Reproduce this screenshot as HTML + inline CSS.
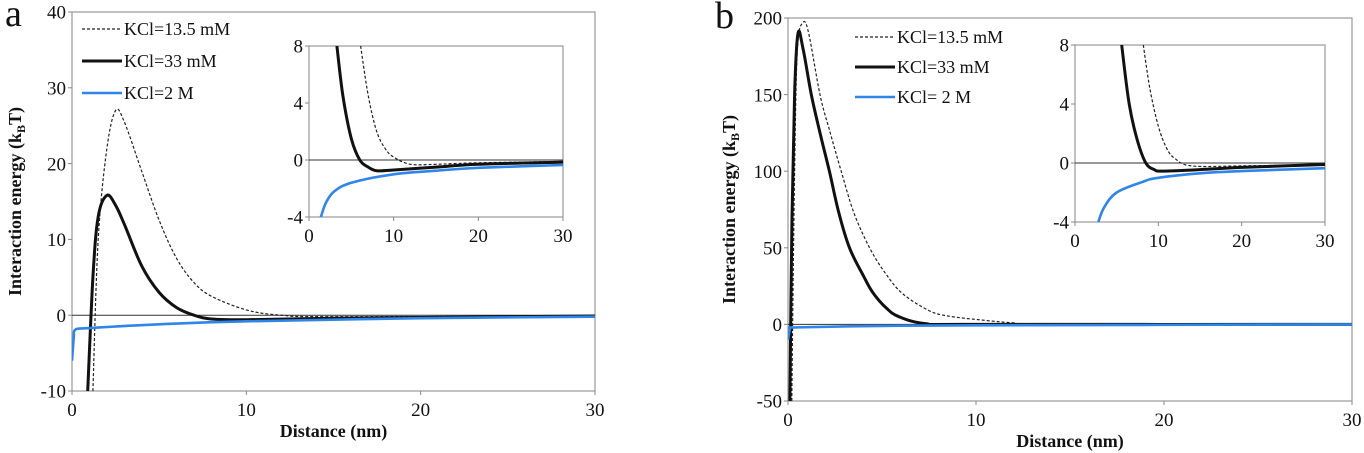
<!DOCTYPE html>
<html><head><meta charset="utf-8"><style>
body{margin:0;background:#fff;}
svg{display:block;font-family:"Liberation Serif",serif;}
</style></head><body>
<svg id="c" width="1364" height="453"></svg>
<script>
// ---- data ----
const seriesNames = ["KCl=13.5 mM","KCl=33 mM","KCl=2 M"];
const seriesNamesB = ["KCl=13.5 mM","KCl=33 mM","KCl= 2 M"];
const aMainX13 = [1.2,1.5,2,2.5,3,4,5,6,7,8,10,12,15,30];
const aMainY13 = [-10,10,22,27,25.5,19,12.5,7.5,4.3,2.5,0.7,0,-0.2,-0.1];
const aMainX33 = [0.9,1.2,1.5,2,2.5,3,4,5,6,7,8,10,15,20,30];
const aMainY33 = [-10,5,13,15.8,14.5,12,6.5,3,1,0,-0.5,-0.6,-0.4,-0.3,-0.1];
const aMainX2M = [0,0.1,0.2,1,5,10,20,30];
const aMainY2M = [-6,-3,-1.9,-1.7,-1.2,-0.8,-0.4,-0.2];
const aInsX13 = [6.1,7,8,9,10,12,15,20,30];
const aInsY13 = [8,4.5,2,0.8,0.2,-0.3,-0.3,-0.2,-0.1];
const aInsX33 = [3.3,4,5,6,7,8,10,15,20,30];
const aInsY33 = [8,4.5,1.5,0,-0.5,-0.75,-0.7,-0.5,-0.3,-0.15];
const aInsX2M = [1.4,2,3,5,10,15,20,30];
const aInsY2M = [-4,-3,-2.2,-1.6,-1,-0.75,-0.55,-0.35];
const bMainX13 = [0.2,0.35,0.5,0.8,1.1,1.7,2.2,2.83,3.5,4.34,5.2,6.1,7.5,8.5,10.2,12,14,30];
const bMainY13 = [-50,100,180,197,190,150,127,100,73,50,33,20,9,5.5,3,1,0,0];
const bMainX33 = [0.1,0.2,0.35,0.53,0.8,1.24,1.7,2.2,2.7,3.27,4,4.5,5.2,5.9,7.3,10,30];
const bMainY33 = [-50,60,150,190,180,150,125,100,73,50,32,21,11,5,0.5,0,0];
const bMainX2M = [0,0.1,0.2,5,10,30];
const bMainY2M = [-10,-3,-2,-1,-0.6,0];
const bInsX13 = [8.2,9,10,11,12,14,20,30];
const bInsY13 = [8,5,2.5,1,0.3,-0.2,-0.2,-0.1];
const bInsX33 = [5.6,6.5,7.5,8.5,9.5,10.5,15,20,30];
const bInsY33 = [8,4,1.5,0,-0.45,-0.55,-0.45,-0.3,-0.1];
const bInsX2M = [2.8,3.5,5,8,10,15,20,30];
const bInsY2M = [-4,-3,-2,-1.3,-1,-0.7,-0.55,-0.35];
const aYTicks = [-10,0,10,20,30,40];
const bYTicks = [-50,0,50,100,150,200];
const xTicks = [0,10,20,30];
const insYTicks = [-4,0,4,8];

const NS="http://www.w3.org/2000/svg";
const svg=document.getElementById('c');
let clipN=0;
function mk(tag,attrs,parent){const e=document.createElementNS(NS,tag);for(const k in attrs)e.setAttribute(k,attrs[k]);(parent||svg).appendChild(e);return e;}

function drawAxes(g,L,R,T,B,xmin,xmax,ymin,ymax,xt,yt,fs,name){
  const sx=v=>L+(v-xmin)/(xmax-xmin)*(R-L);
  const sy=v=>B-(v-ymin)/(ymax-ymin)*(B-T);
  const frame=mk('rect',{x:L,y:T,width:R-L,height:B-T,fill:'none',stroke:'#999','stroke-width':1.2},g);
  
  
  const zl=mk('line',{x1:L,x2:R,y1:sy(0),y2:sy(0),stroke:'#333','stroke-width':1},g);
  
  
  yt.forEach(v=>{
    const t=mk('text',{x:L-6,y:sy(v)+fs*0.35,'text-anchor':'end','font-size':fs,fill:'#111'},g);
    t.textContent=v;
    
    
    mk('line',{x1:L-4,x2:L,y1:sy(v),y2:sy(v),stroke:'#888'},g);
  });
  xt.forEach(v=>{
    const t=mk('text',{x:sx(v),y:B+fs+6,'text-anchor':'middle','font-size':fs,fill:'#111'},g);
    t.textContent=v;
    
    
    mk('line',{x1:sx(v),x2:sx(v),y1:B,y2:B+4,stroke:'#888'},g);
  });
  return {sx,sy};
}
function smoothPath(pts){
  let d='M'+pts[0][0].toFixed(1)+','+pts[0][1].toFixed(1);
  for(let i=0;i<pts.length-1;i++){
    const p0=pts[Math.max(0,i-1)],p1=pts[i],p2=pts[i+1],p3=pts[Math.min(pts.length-1,i+2)];
    const c1=[p1[0]+(p2[0]-p0[0])/6,p1[1]+(p2[1]-p0[1])/6];
    const c2=[p2[0]-(p3[0]-p1[0])/6,p2[1]-(p3[1]-p1[1])/6];
    d+=' C'+c1[0].toFixed(1)+','+c1[1].toFixed(1)+' '+c2[0].toFixed(1)+','+c2[1].toFixed(1)+' '+p2[0].toFixed(1)+','+p2[1].toFixed(1);
  }
  return d;
}
function drawSeries(g,ax,L,T,W,H,xs,ys,style,name){
  const id='clip'+(clipN++);
  const cp=mk('clipPath',{id},g);mk('rect',{x:L,y:T,width:W,height:H},cp);
  const pts=xs.map((x,i)=>[ax.sx(x),ax.sy(ys[i])]);
  const p=mk('path',{d:smoothPath(pts),fill:'none','clip-path':'url(#'+id+')','stroke-linejoin':'round',...style},g);
  
  
}
const S13={stroke:'#222','stroke-width':1.2,'stroke-dasharray':'3,2'};
const S33={stroke:'#111','stroke-width':3};
const S2M={stroke:'#2f86e8','stroke-width':2.6};

function panel(p){
  const g=mk('g',{});
  
  
  const ax=drawAxes(g,p.L,p.R,p.T,p.B,0,30,p.ymin,p.ymax,xTicks,p.yt,19,'main-'+p.id);
  const ia=drawAxes(g,p.iL,p.iR,p.iT,p.iB,0,30,-4,8,xTicks,insYTicks,19,'inset-'+p.id);
  drawSeries(g,ax,p.L,p.T-2,p.R-p.L,p.B-p.T+2,p.m13[0],p.m13[1],S13,'series-13-5mM-'+p.id);
  drawSeries(g,ax,p.L,p.T-2,p.R-p.L,p.B-p.T+2,p.m33[0],p.m33[1],S33,'series-33mM-'+p.id);
  drawSeries(g,ax,p.L,p.T-2,p.R-p.L,p.B-p.T+2,p.m2[0],p.m2[1],S2M,'series-2M-'+p.id);
  drawSeries(g,ia,p.iL,p.iT,p.iR-p.iL+2,p.iB-p.iT,p.i13[0],p.i13[1],S13,'inset-series-13-5mM-'+p.id);
  drawSeries(g,ia,p.iL,p.iT,p.iR-p.iL+2,p.iB-p.iT,p.i33[0],p.i33[1],S33,'inset-series-33mM-'+p.id);
  drawSeries(g,ia,p.iL,p.iT,p.iR-p.iL+2,p.iB-p.iT,p.i2[0],p.i2[1],S2M,'inset-series-2M-'+p.id);
  [S13,S33,S2M].forEach((s,i)=>{
    const y=p.legY+i*p.legDy;
    const l=mk('line',{x1:p.legX,x2:p.legX+40,y1:y,y2:y,...s},g);
    
    
    const t=mk('text',{x:p.legX+42,y:y+6,'font-size':18,fill:'#111'},g);
    t.textContent=p.names[i];
    
    
  });
  const xt=mk('text',{x:(p.L+p.R)/2,y:p.B+46,'text-anchor':'middle','font-size':18,'font-weight':'bold',fill:'#111'},g);
  xt.textContent='Distance (nm)';
  
  
  const cy=(p.T+p.B)/2;
  const yt=mk('text',{x:p.ytX,y:cy,'text-anchor':'middle','font-size':18,'font-weight':'bold',fill:'#111',transform:'rotate(-90 '+p.ytX+' '+cy+')'},g);
  yt.innerHTML='Interaction energy (k<tspan font-size="12" dy="4">B</tspan><tspan dy="-4">T)</tspan>';
  
  
  const lb=mk('text',{x:p.lbX,y:p.lbY,'font-size':38,fill:'#111'},g);
  lb.textContent=p.id;
  
  
}
panel({id:'a',L:72,R:595,T:12,B:391,ymin:-10,ymax:40,yt:aYTicks,
  iL:309,iR:563,iT:46,iB:217,
  m13:[aMainX13,aMainY13],m33:[aMainX33,aMainY33],m2:[aMainX2M,aMainY2M],
  i13:[aInsX13,aInsY13],i33:[aInsX33,aInsY33],i2:[aInsX2M,aInsY2M],
  legX:82,legY:29,legDy:32,names:seriesNames,ytX:21,lbX:5,lbY:26});
panel({id:'b',L:788,R:1352,T:18,B:401,ymin:-50,ymax:200,yt:bYTicks,
  iL:1075,iR:1325,iT:45,iB:222,
  m13:[bMainX13,bMainY13],m33:[bMainX33,bMainY33],m2:[bMainX2M,bMainY2M],
  i13:[bInsX13,bInsY13],i33:[bInsX33,bInsY33],i2:[bInsX2M,bInsY2M],
  legX:855,legY:37,legDy:30,names:seriesNamesB,ytX:735,lbX:715,lbY:28});
</script>
</body></html>
